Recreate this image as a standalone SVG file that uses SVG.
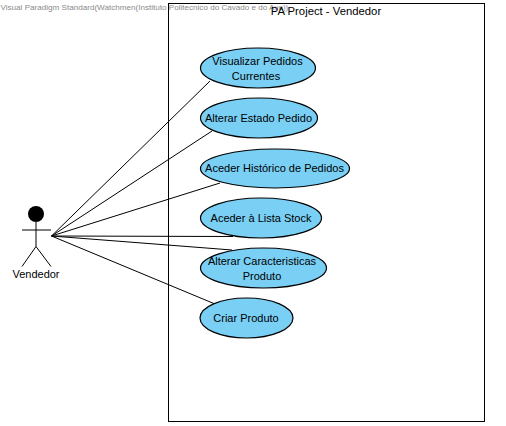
<svg xmlns="http://www.w3.org/2000/svg" width="506" height="426" viewBox="0 0 506 426">
<style>
text{font-family:"Liberation Sans",Arial,sans-serif;font-size:11px;fill:#000;text-anchor:middle}
.u{fill:#7acff5;stroke:#000;stroke-width:1.2}
.c{stroke:#000;stroke-width:1;fill:none}
</style>
<rect width="506" height="426" fill="#fff"/>
<text id="watermark" x="0.500" y="10" style="text-anchor:start;font-size:8.100px;fill:#8a8a8a">Visual Paradigm Standard(Watchmen(Instituto Politecnico do Cavado e do Ave))</text>
<g id="system">
<rect x="168.500" y="3.500" width="316" height="418" fill="none" stroke="#000"/>
<text x="326" y="15" style="font-size:11.300px">PA Project - Vendedor</text>
</g>
<g id="connectors">
<path class="c" d="M51.500 236L210 81"/>
<path class="c" d="M51.500 236L212 131"/>
<path class="c" d="M51.500 236L220 183"/>
<path class="c" d="M51.500 236L233 236.500"/>
<path class="c" d="M51.500 236L232 250"/>
<path class="c" d="M51.500 236L215 304"/>
</g>
<g id="actor">
<circle cx="36" cy="214" r="8" fill="#000"/>
<path class="c" d="M22 230H51M36 222V246.500M22 266.500L36 246.500L51 266.500"/>
<text x="36" y="278">Vendedor</text>
</g>
<g id="uc1"><ellipse class="u" cx="258" cy="68" rx="57.500" ry="20"/><text x="257.500" y="65">Visualizar Pedidos</text><text x="256" y="80">Currentes</text></g>
<g id="uc2"><ellipse class="u" cx="259" cy="118" rx="58.500" ry="20"/><text x="258.500" y="122">Alterar Estado Pedido</text></g>
<g id="uc3"><ellipse class="u" cx="275" cy="168.500" rx="74.500" ry="19.500"/><text x="274.500" y="172">Aceder Histórico de Pedidos</text></g>
<g id="uc4"><ellipse class="u" cx="261" cy="218" rx="60.500" ry="20"/><text x="261" y="222">Aceder à Lista Stock</text></g>
<g id="uc5"><ellipse class="u" cx="263.500" cy="268" rx="63" ry="20"/><text x="262" y="265">Alterar Caracteristicas</text><text x="262" y="280">Produto</text></g>
<g id="uc6"><ellipse class="u" cx="246.500" cy="318" rx="46.500" ry="20"/><text x="246" y="322">Criar Produto</text></g>
</svg>
